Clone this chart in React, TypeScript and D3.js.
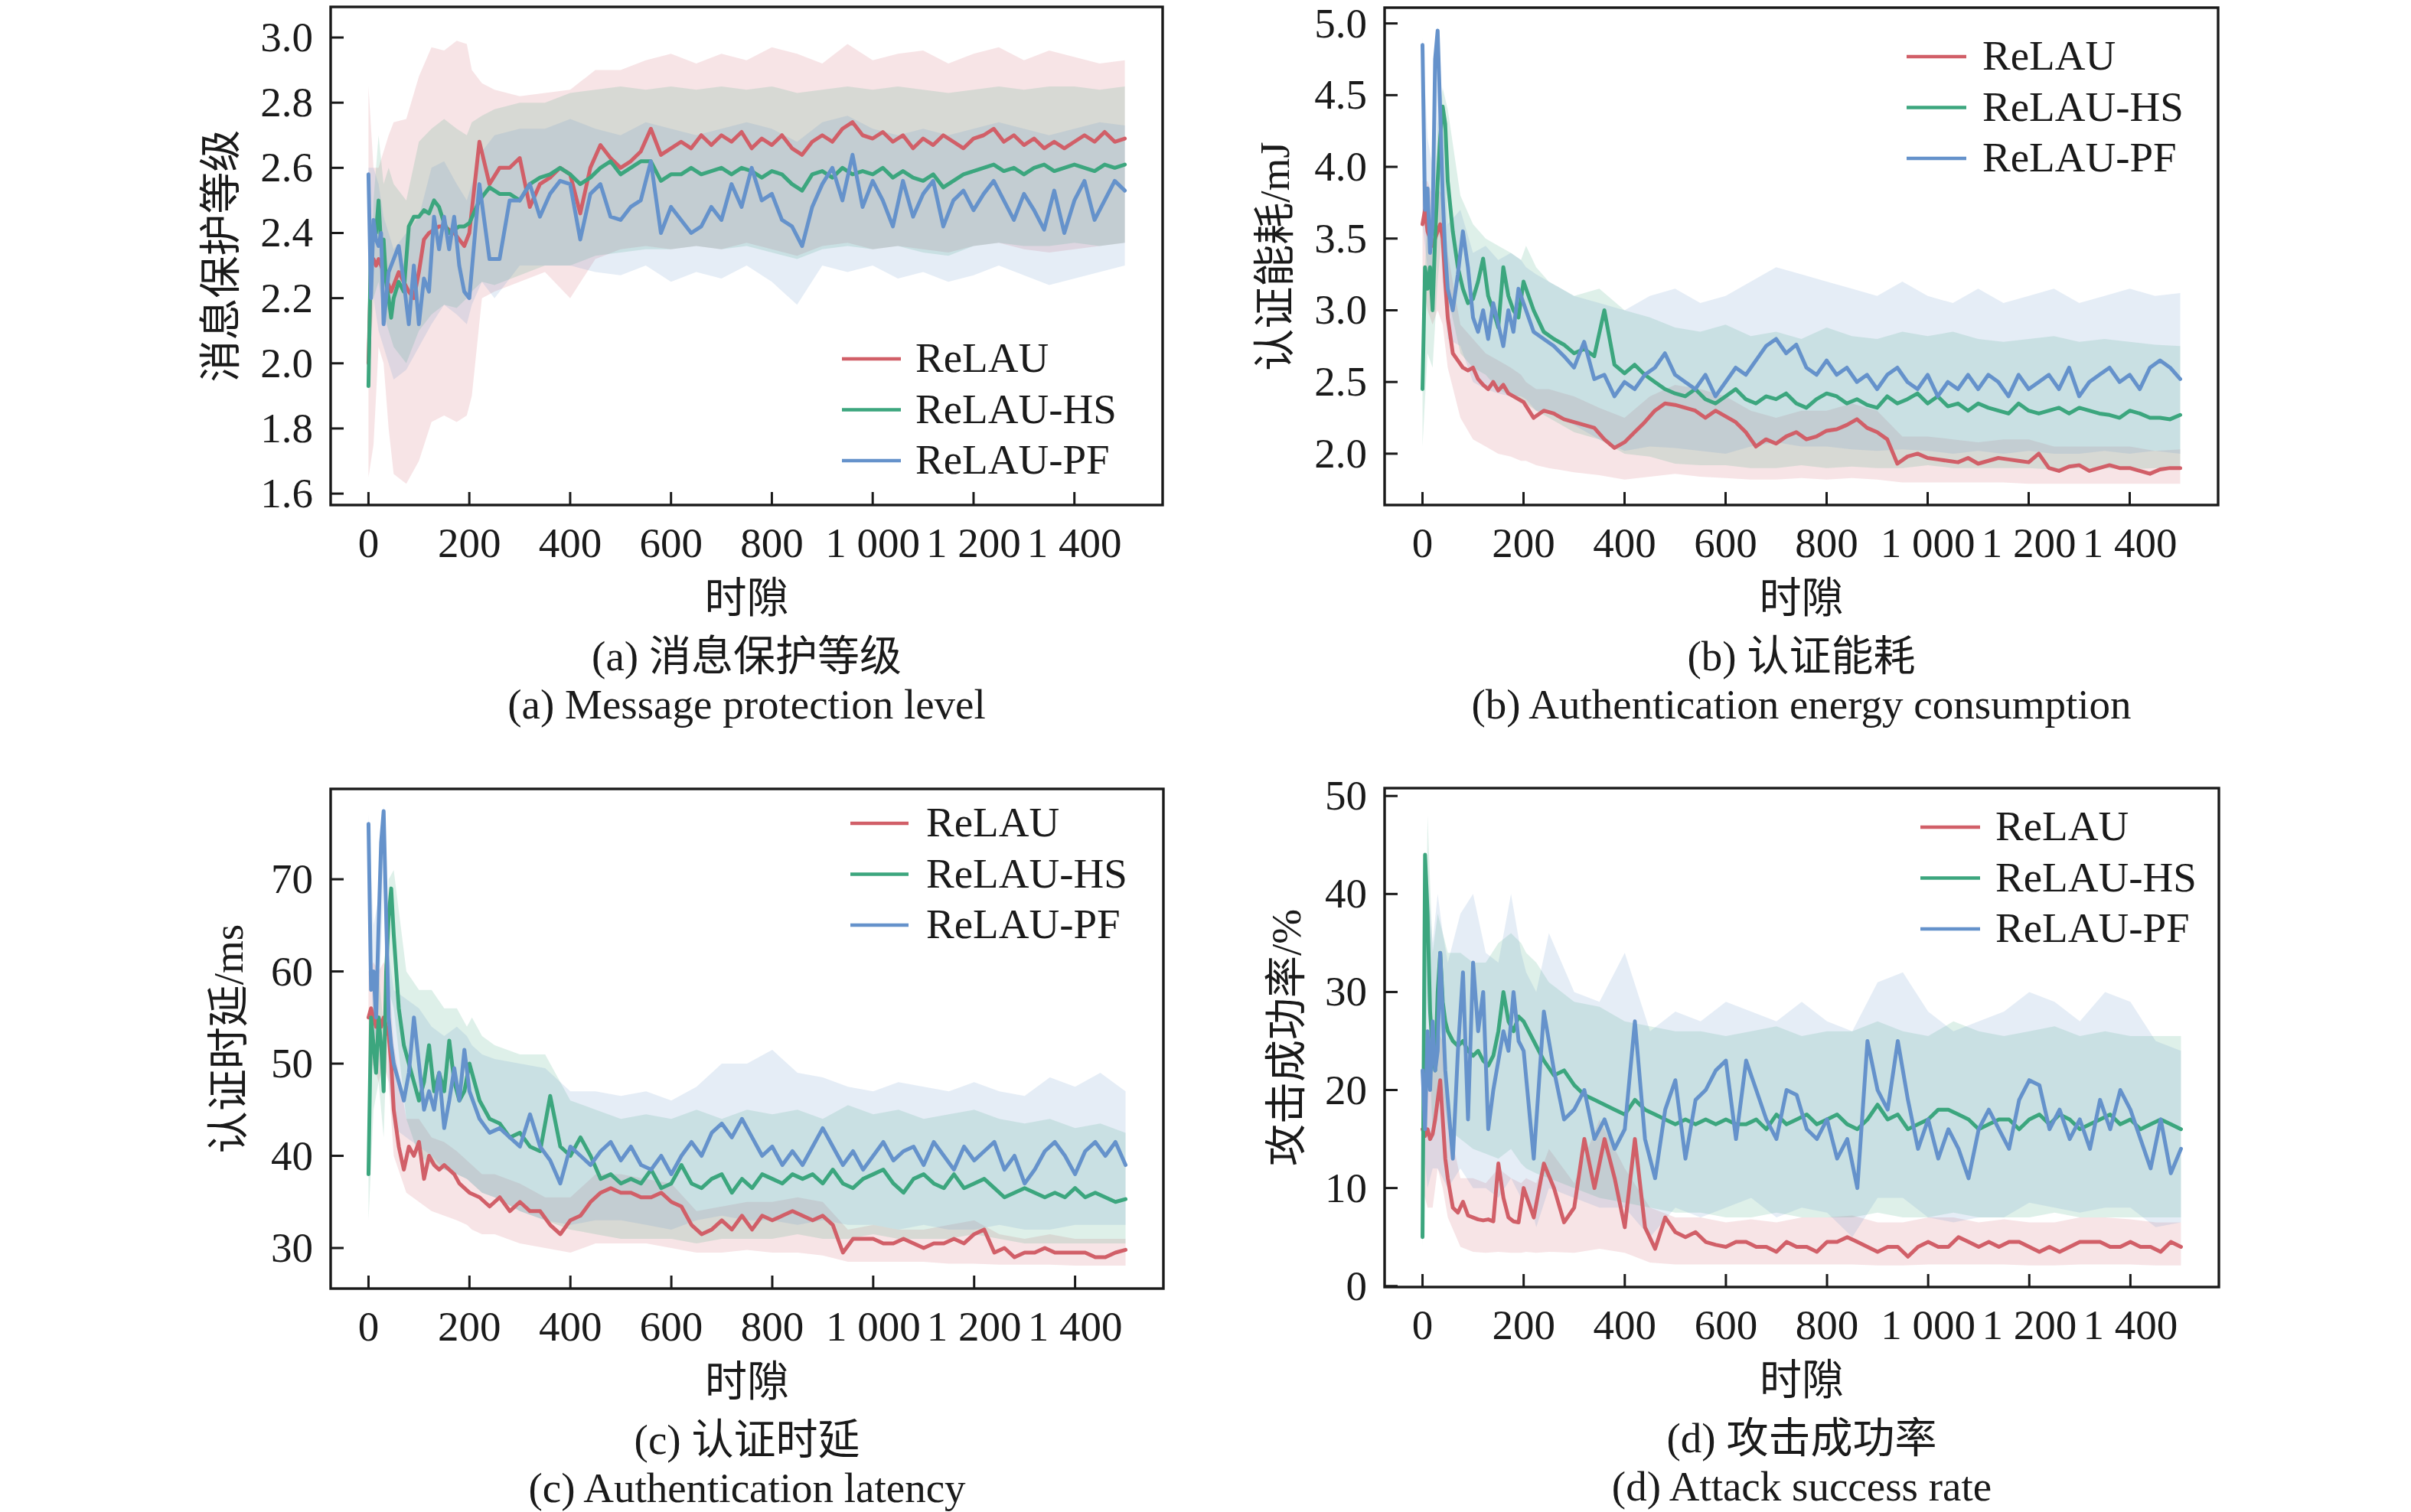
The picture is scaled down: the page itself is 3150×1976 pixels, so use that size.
import React from 'react';
import * as d3 from 'd3';

const W = 3150;
const H = 1976;
const FONT = "'Liberation Serif','Times New Roman','Noto Sans CJK SC',serif";
const FS = 55;

const SERIES_NAMES = ['ReLAU', 'ReLAU-HS', 'ReLAU-PF'];
const COLORS = ['#d15f68', '#3ca67e', '#6592cb'];

const X_TICKS = [0, 200, 400, 600, 800, 1000, 1200, 1400];
const X_TICK_LABELS = ['0', '200', '400', '600', '800', '1 000', '1 200', '1 400'];
const X_LABEL = '时隙';

// time steps of the mean curves
const T = [0,5,10,15,20,25,30,35,40,45,50,60,70,80,90,100,110,120,130,140,150,160,170,180,190,200,220,240,260,280,300,320,340,360,380,400,420,440,460,480,500,520,540,560,580,600,620,640,660,680,700,720,740,760,780,800,820,840,860,880,900,920,940,960,980,1000,1020,1040,1060,1080,1100,1120,1140,1160,1180,1200,1220,1240,1260,1280,1300,1320,1340,1360,1380,1400,1420,1440,1460,1480,1500];
// time steps of the confidence bands
const BT = [0,10,20,30,40,50,75,100,125,150,175,195,205,225,250,300,350,400,450,500,550,600,650,700,750,800,850,900,950,1000,1050,1100,1150,1200,1250,1300,1350,1400,1450,1500];

// ---------- (a) message protection level ----------
const A_Y_TICKS = [1.6, 1.8, 2.0, 2.2, 2.4, 2.6, 2.8, 3.0];
const A_RED = [2.0,2.3,2.32,2.3,2.32,2.3,2.28,2.26,2.24,2.22,2.24,
  2.28,2.25,2.22,2.2,2.28,2.38,2.4,2.41,2.42,2.42,2.41,2.4,2.38,2.36,2.4,
  2.68,2.55,2.6,2.6,2.63,2.48,2.55,2.57,2.6,2.58,
  2.46,2.6,2.67,2.63,2.6,2.62,2.65,2.72,2.64,2.66,
  2.68,2.66,2.7,2.67,2.7,2.68,2.71,2.66,2.69,2.67,
  2.7,2.66,2.64,2.68,2.7,2.68,2.72,2.74,2.7,2.69,
  2.71,2.68,2.7,2.66,2.69,2.67,2.7,2.68,2.66,2.69,
  2.7,2.72,2.68,2.7,2.67,2.69,2.66,2.68,2.66,2.68,
  2.7,2.68,2.71,2.68,2.69];
const A_GREEN = [1.93,2.38,2.42,2.4,2.5,2.36,2.38,2.25,2.2,2.14,2.2,
  2.25,2.22,2.42,2.45,2.45,2.47,2.46,2.5,2.48,2.43,2.4,2.41,2.42,2.42,2.43,
  2.5,2.54,2.52,2.52,2.5,2.55,2.57,2.58,2.6,2.58,
  2.55,2.57,2.6,2.62,2.58,2.6,2.62,2.62,2.56,2.58,
  2.58,2.6,2.58,2.59,2.6,2.58,2.6,2.59,2.57,2.59,
  2.58,2.55,2.53,2.58,2.59,2.57,2.6,2.58,2.59,2.58,
  2.6,2.57,2.59,2.57,2.56,2.58,2.54,2.56,2.58,2.59,
  2.6,2.61,2.59,2.6,2.58,2.6,2.61,2.59,2.6,2.61,
  2.6,2.59,2.61,2.6,2.61];
const A_BLUE = [2.58,2.2,2.44,2.38,2.36,2.4,2.12,2.2,2.28,2.3,2.32,
  2.36,2.25,2.12,2.3,2.12,2.26,2.22,2.45,2.35,2.45,2.35,2.45,2.3,2.22,2.2,
  2.55,2.32,2.32,2.5,2.5,2.55,2.45,2.52,2.56,2.55,
  2.38,2.52,2.55,2.45,2.44,2.48,2.5,2.62,2.4,2.48,
  2.44,2.4,2.42,2.48,2.44,2.55,2.48,2.6,2.5,2.52,
  2.44,2.42,2.36,2.48,2.55,2.6,2.5,2.64,2.48,2.56,
  2.5,2.42,2.56,2.45,2.52,2.56,2.42,2.5,2.53,2.47,
  2.52,2.56,2.5,2.44,2.52,2.47,2.41,2.53,2.4,2.5,
  2.56,2.44,2.5,2.56,2.53];
const A_RED_LO = [1.65,1.75,2.05,2.0,1.8,1.66,1.63,1.7,1.82,1.84,1.82,1.84,1.9,2.2,2.22,2.25,2.28,2.2,2.32,2.35,2.36,2.35,2.36,2.35,2.37,2.35,2.33,2.36,2.37,2.35,2.36,2.35,2.34,2.36,2.37,2.35,2.34,2.35,2.36,2.37];
const A_RED_HI = [2.85,2.6,2.6,2.65,2.7,2.74,2.75,2.88,2.97,2.96,2.99,2.98,2.9,2.86,2.84,2.82,2.83,2.84,2.9,2.9,2.93,2.95,2.92,2.95,2.93,2.97,2.95,2.92,2.98,2.93,2.95,2.96,2.92,2.95,2.97,2.93,2.96,2.94,2.92,2.93];
const A_GREEN_LO = [1.93,2.2,2.25,2.15,2.1,2.05,2.0,2.1,2.15,2.18,2.17,2.2,2.22,2.25,2.24,2.27,2.3,2.3,2.33,2.34,2.35,2.35,2.36,2.35,2.36,2.34,2.32,2.35,2.36,2.35,2.36,2.34,2.33,2.36,2.37,2.36,2.36,2.37,2.36,2.37];
const A_GREEN_HI = [2.0,2.5,2.7,2.55,2.6,2.55,2.5,2.68,2.72,2.75,2.72,2.7,2.74,2.76,2.78,2.8,2.8,2.83,2.84,2.85,2.84,2.85,2.84,2.85,2.84,2.85,2.83,2.84,2.85,2.84,2.85,2.84,2.83,2.84,2.85,2.84,2.85,2.85,2.84,2.85];
const A_BLUE_LO = [2.3,2.2,2.1,2.05,2.0,1.95,1.98,2.05,2.12,2.18,2.15,2.12,2.18,2.25,2.2,2.3,2.3,2.3,2.28,2.27,2.3,2.25,2.28,2.26,2.3,2.25,2.18,2.3,2.28,2.3,2.26,2.28,2.25,2.27,2.3,2.27,2.24,2.26,2.28,2.3];
const A_BLUE_HI = [2.6,2.6,2.55,2.45,2.4,2.35,2.4,2.45,2.6,2.62,2.55,2.5,2.55,2.65,2.7,2.72,2.72,2.75,2.72,2.7,2.74,2.72,2.7,2.72,2.74,2.72,2.68,2.74,2.76,2.72,2.7,2.72,2.7,2.72,2.74,2.72,2.7,2.72,2.74,2.73];

// ---------- (b) authentication energy consumption ----------
const B_Y_TICKS = [2.0, 2.5, 3.0, 3.5, 4.0, 4.5, 5.0];
const B_RED = [3.6,3.7,3.55,3.5,3.45,3.5,3.55,3.6,3.5,3.2,2.95,
  2.7,2.65,2.6,2.58,2.6,2.52,2.48,2.45,2.5,2.44,2.48,2.42,2.4,2.38,2.36,
  2.25,2.3,2.28,2.24,2.22,2.2,2.18,2.1,2.04,2.08,
  2.15,2.22,2.3,2.35,2.34,2.32,2.3,2.25,2.3,2.26,
  2.22,2.15,2.05,2.1,2.07,2.12,2.15,2.1,2.12,2.16,
  2.17,2.2,2.24,2.18,2.15,2.1,1.93,1.98,2.0,1.97,
  1.96,1.95,1.94,1.97,1.93,1.95,1.97,1.96,1.95,1.94,
  2.0,1.9,1.88,1.91,1.92,1.88,1.9,1.92,1.9,1.9,
  1.88,1.86,1.89,1.9,1.9];
const B_GREEN = [2.45,3.3,3.15,3.3,3.0,3.5,3.9,4.2,4.42,4.3,3.9,
  3.55,3.3,3.15,3.05,3.08,3.2,3.36,3.1,3.0,2.88,3.3,3.1,3.0,2.95,3.2,
  3.0,2.85,2.8,2.76,2.7,2.73,2.68,3.0,2.62,2.56,
  2.62,2.55,2.5,2.45,2.42,2.4,2.45,2.38,2.35,2.4,
  2.45,2.38,2.35,2.4,2.38,2.42,2.35,2.32,2.38,2.42,
  2.4,2.35,2.38,2.34,2.32,2.4,2.35,2.38,2.42,2.35,
  2.4,2.33,2.35,2.3,2.35,2.32,2.3,2.28,2.35,2.3,
  2.28,2.3,2.32,2.28,2.32,2.3,2.28,2.27,2.25,2.3,
  2.28,2.25,2.25,2.24,2.27];
const B_BLUE = [4.85,3.7,3.85,3.4,3.6,4.75,4.95,4.4,3.8,3.4,3.15,
  3.0,3.25,3.55,3.3,2.95,2.85,3.0,2.8,3.05,2.9,2.75,3.0,2.85,3.15,3.05,
  2.85,2.8,2.75,2.68,2.6,2.78,2.52,2.55,2.4,2.5,
  2.45,2.55,2.6,2.7,2.55,2.5,2.45,2.55,2.4,2.5,
  2.6,2.55,2.65,2.75,2.8,2.7,2.76,2.6,2.55,2.65,
  2.55,2.6,2.5,2.55,2.45,2.55,2.6,2.5,2.45,2.55,
  2.4,2.5,2.45,2.55,2.45,2.55,2.5,2.4,2.55,2.45,
  2.5,2.55,2.45,2.6,2.4,2.5,2.55,2.6,2.5,2.55,
  2.45,2.6,2.65,2.6,2.52];
const B_RED_LO = [3.2,3.0,2.9,3.0,2.9,2.6,2.25,2.1,2.05,2.0,1.98,1.95,1.95,1.92,1.9,1.87,1.85,1.82,1.84,1.86,1.84,1.83,1.82,1.82,1.83,1.82,1.83,1.82,1.8,1.8,1.8,1.8,1.8,1.79,1.79,1.79,1.79,1.79,1.79,1.79];
const B_RED_HI = [3.9,3.9,3.8,3.85,3.8,3.4,2.9,2.8,2.7,2.65,2.6,2.55,2.5,2.45,2.45,2.4,2.32,2.25,2.4,2.48,2.45,2.4,2.3,2.25,2.3,2.3,2.35,2.3,2.12,2.12,2.1,2.08,2.1,2.1,2.05,2.05,2.05,2.05,2.02,2.03];
const B_GREEN_LO = [2.05,2.7,2.6,3.2,3.6,3.1,2.7,2.6,2.55,2.45,2.4,2.35,2.35,2.3,2.25,2.15,2.1,2.0,1.98,1.93,1.92,1.92,1.9,1.9,1.92,1.9,1.91,1.9,1.9,1.92,1.9,1.9,1.9,1.9,1.89,1.9,1.9,1.89,1.9,1.9];
const B_GREEN_HI = [2.7,3.8,3.5,4.3,4.55,4.4,3.8,3.6,3.5,3.45,3.4,3.35,3.45,3.3,3.2,3.1,3.15,3.0,2.95,2.88,2.85,2.9,2.82,2.85,2.8,2.88,2.82,2.8,2.85,2.82,2.85,2.8,2.78,2.8,2.82,2.78,2.8,2.78,2.76,2.75];
const B_BLUE_LO = [3.6,3.3,3.0,3.8,3.2,2.8,2.75,2.5,2.45,2.42,2.4,2.4,2.38,2.3,2.28,2.2,2.1,2.02,2.05,2.04,2.02,2.0,2.05,2.08,2.05,2.05,2.03,2.02,2.03,2.02,2.0,2.02,2.0,2.02,2.0,2.0,2.02,2.0,2.02,2.0];
const B_BLUE_HI = [4.9,4.2,4.0,4.98,4.4,3.6,3.7,3.4,3.45,3.35,3.4,3.35,3.3,3.25,3.2,3.1,3.05,3.0,3.1,3.15,3.05,3.1,3.2,3.3,3.25,3.2,3.15,3.1,3.2,3.1,3.05,3.15,3.05,3.1,3.15,3.05,3.1,3.15,3.1,3.12];

// ---------- (c) authentication latency ----------
const C_Y_TICKS = [30, 40, 50, 60, 70];
const C_RED = [55,56,55,54,55,54,55,54,53,50,45,
  41,38.5,41,40,41.5,37.5,40,39,38.5,39,38.5,38,37,36.5,36,
  35.5,34.5,35.5,34,35,34,34,32.5,31.5,33,
  33.5,35,36,36.5,36,36,35.5,35.5,36,35,
  34.5,32.5,31.5,32,33,32,33.5,32,33.5,33,
  33.5,34,33.5,33,33.5,32.5,29.5,31,31,31,
  30.5,30.5,31,30.5,30,30.5,30.5,31,30.5,31.5,
  32,29.5,30,29,29.5,29.5,30,29.5,29.5,29.5,
  29.5,29,29,29.5,29.8];
const C_GREEN = [38,55,52,49,55,52,47,60,66,69,64,
  56,52,50,48,46,48,52,47,49,47,52.5,48,46,47,50,
  46,44,43.5,42,42.5,41,40.5,46.5,41,40,
  42,40,37.5,38,37,37.5,37,38.5,36.5,37,
  39,37,36.5,37.5,38,36,37.5,36.5,38,37.5,
  37,38,37.5,38,37,38.5,37,36.5,37.5,38,
  38.5,37,36,37.5,38,37,36.5,38,36.5,37,
  37.5,36.5,35.5,36,36.5,36,35.5,36,35.5,36.5,
  35.5,36,35.5,35,35.3];
const C_BLUE = [76,58,60,55,65,74,77.4,66,55,52,50,
  48,46,49,55,50,45,47,45,49,43,46,49.5,46,51.5,47,
  44,42.5,43,42,41,44.5,41,39.5,37,41,
  40,39,40.5,41.5,39.5,41,39,38.5,40,38,
  40,41.5,40,42.5,43.5,42,44,42,40,41,
  39,40.5,39,41,43,41,39,40.5,38.5,40,
  41.5,39.5,40.5,41,39,41.5,40,38.5,41,39.5,
  40.5,41.5,38.5,40,37,38.5,40.5,41.5,40,38,
  40.5,41.5,40,41.5,39];
const C_RED_LO = [48,50,48,50,48,40,36,35,34,33.5,33,32.5,32,31.5,31.5,30.5,30,29.5,30.5,30.5,30.5,30,29.5,29.5,29.8,29.5,29.5,29.2,28.5,28.5,28.5,28.5,28.3,28.3,28.2,28.2,28.2,28.1,28.1,28.1];
const C_RED_HI = [60,61,60,61,60,52,44,44,42,41.5,40.5,39.5,39,38,38,37,35.5,35.5,38,38,37.5,37,34,34.5,35,35,35.5,35,32,32.5,32,32,32.5,33,31.5,31,31.5,31,31,31];
const C_GREEN_LO = [33,45,48,42,58,56,44,40,39,38.5,38,37.5,37,36,35.5,34,33,32,31.5,31,31,31,30.5,31,31,31,31.5,31,31,31.5,31,31,31,31.5,31,30.5,30.5,30.5,30.5,30.5];
const C_GREEN_HI = [42,58,60,54,70,71,60,58,58,56,56,54,55,53,52,51,51,46,45,44,44.5,44,45,44,45,44.5,45,44,45.5,44.5,45,44,44.5,45,44,43.5,44,43,43.5,42.5];
const C_BLUE_LO = [70,52,55,70,48,43,42,41,40,38.5,38,37.5,37,36,35.5,34,33,32.5,33,33,32.5,32,33,33.5,33,33,32.5,33,32.5,32.5,32,32.5,32,32,32.5,32,32,32.5,32.5,32.5];
const C_BLUE_HI = [77,65,68,78,62,58,57,56,54,53,54,53,52,51,50.5,50,49.5,47,47,46.5,47,46,47.5,50,50,51.5,49,48.5,47.5,47,48,47.5,47,48,47,46.5,48.5,47.5,49,47];

// ---------- (d) attack success rate ----------
const D_Y_TICKS = [0, 10, 20, 30, 40, 50];
const D_RED = [16,15.3,16,15,15.5,17,19,21,17,13,11,
  8,7.5,8.6,7.2,7,6.8,6.7,6.8,6.6,12.5,9,7,6.6,6.5,10,
  7,12.5,10,6.5,8,15,10,15,11,6,
  15,6,3.8,7,5.5,5,5.5,4.5,4.2,4,
  4.5,4.5,4,4,3.5,4.5,4,4,3.5,4.5,
  4.5,5,4.5,4,3.5,4,4,3,4,4.5,
  4,4,5,4.5,4,4.5,4,4.5,4.5,4,
  3.5,4,3.5,4,4.5,4.5,4.5,4,4,4.5,
  4,4,3.5,4.5,4];
const D_GREEN = [5,44,38,28,24,22,30,34,29,27,26,
  25,24.5,25,24,23.5,24,23,22.5,23.5,26,30,27,26,27.5,27,
  25,23,21.5,22,20.5,19.5,19,18.5,18,17.5,
  19,18,17.5,17,16.5,17,16.5,17,16.5,17,
  16.5,16.5,17,16,17.5,16.5,17,17.5,16.5,17,
  17.5,16.5,16,17,18.5,17,17.5,16,16.5,17,
  18,18,17.5,17,16,16.5,17,17,16,17,
  17.5,16.5,17.5,17,16,16.5,17,17.5,16.5,17,
  16,16.5,17,16.5,16];
const D_BLUE = [22,16,26,20,27,22,24,34,28,22,19,
  13,24,32,17,33,26,30,16,20,23,26,24,30,25,24,
  13,28,22,17,18,20,15,17,14,16,
  27,15,11,18,21,13,19,20,22,23,
  15,23,20,17,15,20,19.5,16,15,17,
  13,15,10,25,20,18,25,19,14,17,
  13,16,14,11,16,18,16,14,19,21,
  20.5,16,18,15,17,14,19,16,20,18,
  15,12,17,11.5,14];
const D_RED_LO = [10,8,8,12,10,7,4,3.5,3.4,3.5,3.4,3.4,3.5,3.4,3.5,3.4,3.8,3.4,2.4,2.2,2.2,2.2,2.2,2.2,2.2,2.2,2.2,2.1,2.1,2.2,2.2,2.2,2.2,2.1,2.1,2.2,2.2,2.2,2.1,2.1];
const D_RED_HI = [25,24,22,26,25,17,11,11,10.5,12,11,10.5,11,10.5,14,10.5,17,12,8,7,7,6.5,6.8,6.5,7,7,7.2,6.5,6.5,7,7,6.5,6.8,6.5,6.5,7,7,6.8,6.5,6.5];
const D_GREEN_LO = [4,30,15,20,20,16,15,14,13.5,13,14,12.5,12,11.5,11,10,9,8.5,8,7.5,7.5,7,7,7.5,7,7,7,7.5,7,7,7.5,7,7,7,7.5,7,7,7,7,7];
const D_GREEN_HI = [6,48,34,38,36,34,34,33,33,35,36,35,34,33,31,29,28.5,27,26.5,26,26,25.5,26,26.5,25.5,26,26,27,26,25.5,27,26,25.5,26,26.5,25.5,26,25.5,25.5,25.5];
const D_BLUE_LO = [15,10,12,12,11,10,12,10,10,9,11,9,10,6,10,9,8,8,5,8,7,8,9,7,8,7.5,5,9,9,7,6.5,7,7,8.5,8,7.5,8,8,6,6.5];
const D_BLUE_HI = [30,42,35,40,36,33,38,40,34,33,40,34,32,30,36,30,29,34,26,28,27,29,28,27,29,27,26,31,32,28,26,27,28,30,29,27,30,29,25,24];

type Panel = {
  left: number; right: number; top: number; bottom: number;
  yDomain: [number, number]; yTicks: number[]; digits: number;
  ylabel: string; ylabelX: number;
  capZh: string; capEn: string;
  legend: { x1: number; x2: number; tx: number; y0: number };
  means: number[][]; lows: number[][]; highs: number[][];
};

const PANELS: Panel[] = [
  {
    left: 432, right: 1519, top: 9, bottom: 660,
    yDomain: [1.565, 3.094], yTicks: A_Y_TICKS, digits: 1,
    ylabel: '消息保护等级', ylabelX: 286,
    capZh: '(a) 消息保护等级', capEn: '(a) Message protection level',
    legend: { x1: 1100, x2: 1177, tx: 1196, y0: 469 },
    means: [A_RED, A_GREEN, A_BLUE],
    lows: [A_RED_LO, A_GREEN_LO, A_BLUE_LO],
    highs: [A_RED_HI, A_GREEN_HI, A_BLUE_HI],
  },
  {
    left: 1809, right: 2898, top: 10, bottom: 660,
    yDomain: [1.642, 5.11], yTicks: B_Y_TICKS, digits: 1,
    ylabel: '认证能耗/mJ', ylabelX: 1663,
    capZh: '(b) 认证能耗', capEn: '(b) Authentication energy consumption',
    legend: { x1: 2491, x2: 2569, tx: 2590, y0: 74 },
    means: [B_RED, B_GREEN, B_BLUE],
    lows: [B_RED_LO, B_GREEN_LO, B_BLUE_LO],
    highs: [B_RED_HI, B_GREEN_HI, B_BLUE_HI],
  },
  {
    left: 432, right: 1520, top: 1031, bottom: 1684,
    yDomain: [25.6, 79.8], yTicks: C_Y_TICKS, digits: 0,
    ylabel: '认证时延/ms', ylabelX: 296,
    capZh: '(c) 认证时延', capEn: '(c) Authentication latency',
    legend: { x1: 1111, x2: 1187, tx: 1210, y0: 1076 },
    means: [C_RED, C_GREEN, C_BLUE],
    lows: [C_RED_LO, C_GREEN_LO, C_BLUE_LO],
    highs: [C_RED_HI, C_GREEN_HI, C_BLUE_HI],
  },
  {
    left: 1809, right: 2899, top: 1030, bottom: 1682,
    yDomain: [-0.1, 50.8], yTicks: D_Y_TICKS, digits: 0,
    ylabel: '攻击成功率/%', ylabelX: 1678,
    capZh: '(d) 攻击成功率', capEn: '(d) Attack success rate',
    legend: { x1: 2509, x2: 2587, tx: 2607, y0: 1081 },
    means: [D_RED, D_GREEN, D_BLUE],
    lows: [D_RED_LO, D_GREEN_LO, D_BLUE_LO],
    highs: [D_RED_HI, D_GREEN_HI, D_BLUE_HI],
  },
];

function PanelView({ p, idx }: { p: Panel; idx: number }) {
  const x = d3.scaleLinear().domain([-75, 1575]).range([p.left, p.right]);
  const y = d3.scaleLinear().domain(p.yDomain).range([p.bottom, p.top]);
  const cx = (p.left + p.right) / 2;
  const cy = (p.top + p.bottom) / 2;
  const clipId = `clip-${idx}`;

  const line = (vals: number[]) =>
    d3.line<number>()
      .x((_, i) => x(T[i]))
      .y((v) => y(v))(vals.slice(0, T.length)) || '';
  const area = (lo: number[], hi: number[]) => {
    const n = Math.min(BT.length, lo.length, hi.length);
    const idxs = d3.range(n);
    return d3.area<number>()
      .x((i) => x(BT[i]))
      .y0((i) => y(lo[i]))
      .y1((i) => y(hi[i]))(idxs) || '';
  };

  return (
    <g>
      <defs>
        <clipPath id={clipId}>
          <rect x={p.left} y={p.top} width={p.right - p.left} height={p.bottom - p.top} />
        </clipPath>
      </defs>
      <g clipPath={`url(#${clipId})`}>
        {p.lows.map((lo, s) => (
          <path key={`b${s}`} d={area(lo, p.highs[s])} fill={COLORS[s]} fillOpacity={0.17} stroke="none" />
        ))}
        {p.means.map((m, s) => (
          <path key={`l${s}`} d={line(m)} fill="none" stroke={COLORS[s]} strokeWidth={5}
            strokeLinejoin="round" strokeLinecap="round" />
        ))}
      </g>
      <rect x={p.left} y={p.top} width={p.right - p.left} height={p.bottom - p.top}
        fill="none" stroke="#1a1a1a" strokeWidth={3.4} />
      {X_TICKS.map((t, i) => (
        <g key={`xt${i}`}>
          <line x1={x(t)} x2={x(t)} y1={p.bottom} y2={p.bottom - 17} stroke="#1a1a1a" strokeWidth={3} />
          <text x={x(t)} y={p.bottom + 68} textAnchor="middle" fontSize={FS} fontFamily={FONT} fill="#1a1a1a">
            {X_TICK_LABELS[i]}
          </text>
        </g>
      ))}
      {p.yTicks.map((v, i) => (
        <g key={`yt${i}`}>
          <line x1={p.left} x2={p.left + 17} y1={y(v)} y2={y(v)} stroke="#1a1a1a" strokeWidth={3} />
          <text x={p.left - 23} y={y(v) + 18} textAnchor="end" fontSize={FS} fontFamily={FONT} fill="#1a1a1a">
            {v.toFixed(p.digits)}
          </text>
        </g>
      ))}
      <text transform={`translate(${p.ylabelX + 21},${cy}) rotate(-90)`} textAnchor="middle"
        fontSize={FS} fontFamily={FONT} fill="#1a1a1a">{p.ylabel}</text>
      <text x={cx} y={p.bottom + 140} textAnchor="middle" fontSize={FS} fontFamily={FONT} fill="#1a1a1a">{X_LABEL}</text>
      <text x={cx} y={p.bottom + 216} textAnchor="middle" fontSize={FS} fontFamily={FONT} fill="#1a1a1a">{p.capZh}</text>
      <text x={cx} y={p.bottom + 279} textAnchor="middle" fontSize={FS} fontFamily={FONT} fill="#1a1a1a">{p.capEn}</text>
      {SERIES_NAMES.map((name, s) => {
        const ly = p.legend.y0 + s * 66.5;
        return (
          <g key={`lg${s}`}>
            <line x1={p.legend.x1} x2={p.legend.x2} y1={ly} y2={ly} stroke={COLORS[s]} strokeWidth={4.5} />
            <text x={p.legend.tx} y={ly + 17} fontSize={FS} fontFamily={FONT} fill="#1a1a1a">{name}</text>
          </g>
        );
      })}
    </g>
  );
}

export default function App() {
  return (
    <svg width={W} height={H} viewBox={`0 0 ${W} ${H}`}
      style={{ position: 'absolute', left: 0, top: 0, background: '#ffffff' }}>
      <rect x={0} y={0} width={W} height={H} fill="#ffffff" />
      {PANELS.map((p, i) => <PanelView key={i} p={p} idx={i} />)}
    </svg>
  );
}
